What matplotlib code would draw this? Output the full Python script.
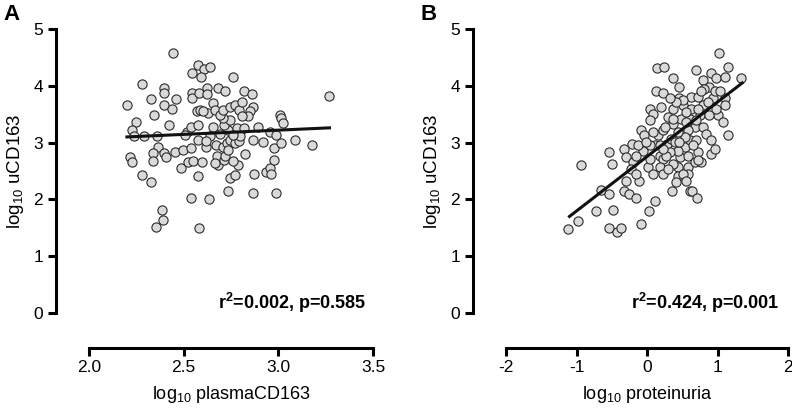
import numpy as np
import matplotlib
matplotlib.use("Agg")
import matplotlib.pyplot as plt

plt.rcParams["font.family"] = ["Liberation Sans", "DejaVu Sans"]
plt.rcParams["mathtext.fontset"] = "custom"
plt.rcParams["mathtext.rm"] = "Liberation Sans"
plt.rcParams["mathtext.bf"] = "Liberation Sans:bold"
plt.rcParams["mathtext.default"] = "regular"

# Panel A: log10 plasmaCD163 vs log10 uCD163
plasma_x = [
    2.445, 2.20, 2.28, 2.25, 2.225, 2.217, 2.225, 2.28, 2.326, 2.24,
    2.29, 2.326, 2.343, 2.357, 2.366, 2.34, 2.336, 2.394, 2.406, 2.398,
    2.394, 2.394, 2.46, 2.44, 2.42, 2.454, 2.495, 2.484, 2.384, 2.393,
    2.354, 2.583, 2.537, 2.635, 2.577, 2.525, 2.55, 2.595, 2.537, 2.516,
    2.507, 2.54, 2.577, 2.577, 2.616, 2.569, 2.586, 2.542, 2.577, 2.607,
    2.639, 2.592, 2.542, 2.542, 2.58, 2.625, 2.625, 2.63, 2.657, 2.665,
    2.683, 2.718, 2.759, 2.657, 2.67, 2.674, 2.683, 2.665, 2.715, 2.718,
    2.736, 2.745, 2.771, 2.785, 2.759, 2.706, 2.727, 2.745, 2.771, 2.79,
    2.736, 2.711, 2.745, 2.71, 2.69, 2.71, 2.745, 2.771, 2.79, 2.806,
    2.82, 2.86, 2.868, 2.85, 2.84, 2.806, 2.78, 2.82, 2.80, 2.826,
    2.868, 2.894, 2.92, 2.873, 2.868, 2.933, 2.956, 2.96, 2.976, 2.976,
    2.956, 2.988, 3.014, 2.99, 3.01, 3.012, 3.023, 3.088, 3.18, 3.27,
    2.60, 2.639, 2.616, 2.76, 2.69, 2.736,
]
ucd_a = [
    4.57, 3.67, 4.04, 3.37, 3.22, 2.74, 2.66, 2.43, 2.31, 3.11,
    3.11, 3.76, 3.49, 3.11, 2.93, 2.81, 2.67, 2.81, 2.74, 3.96,
    3.87, 3.67, 3.77, 3.59, 3.31, 2.84, 2.87, 2.55, 1.82, 1.63,
    1.51, 1.49, 2.02, 2.01, 2.42, 2.66, 2.67, 2.65, 2.90, 3.19,
    3.14, 3.28, 3.31, 3.05, 2.93, 3.55, 3.58, 4.23, 4.37, 4.29,
    4.34, 4.16, 3.88, 3.78, 3.87, 3.97, 3.86, 3.52, 3.69, 3.58,
    3.96, 3.90, 4.15, 3.27, 2.96, 2.76, 2.61, 2.64, 2.70, 2.76,
    2.14, 2.37, 2.43, 2.61, 2.67, 2.93, 2.99, 3.05, 2.99, 3.02,
    3.22, 3.31, 3.40, 3.43, 3.49, 3.58, 3.63, 3.66, 3.58, 3.72,
    3.91, 3.85, 3.63, 3.55, 3.46, 3.46, 3.25, 3.25, 3.11, 2.80,
    3.05, 3.28, 3.01, 2.45, 2.12, 2.49, 2.55, 2.45, 2.70, 2.91,
    3.19, 3.14, 2.99, 2.12, 3.49, 3.44, 3.35, 3.04, 2.95, 3.82,
    3.55, 3.11, 3.03, 3.14, 3.15, 2.87,
]
fit_a_x = [2.20, 3.27]
fit_a_y = [3.10, 3.26]

# Panel B: log10 proteinuria vs log10 uCD163
prot_x = [
    -1.115, -0.973, -0.935, -0.722, -0.65, -0.533, -0.533, -0.495, -0.533, -0.424,
    -0.376, -0.476, -0.32, -0.296, -0.305, -0.32, -0.25, -0.163, -0.083, 0.021,
    0.107, -0.21, -0.20, -0.225, -0.107, -0.154, -0.05, -0.083, -0.036, 0.012,
    0.083, 0.036, 0.083, 0.036, 0.13, 0.20, 0.144, 0.24, 0.225, 0.154,
    0.225, 0.178, 0.225, 0.178, 0.225, 0.282, 0.367, 0.367, 0.367, 0.343,
    0.353, 0.438, 0.438, 0.452, 0.452, 0.509, 0.485, 0.509, 0.533, 0.462,
    0.58, 0.438, 0.58, 0.58, 0.627, 0.627, 0.604, 0.675, 0.604, 0.70,
    0.72, 0.675, 0.604, 0.64, 0.712, 0.70, 0.72, 0.79, 0.745, 0.79,
    0.84, 0.77, 0.72, 0.91, 0.91, 0.96, 0.79, 0.91, 0.885, 0.93,
    1.02, 0.98, 1.10, 1.15, 1.337, 1.10, 1.10, 1.006, 1.077, 1.148,
    0.98, 0.885, 0.81, 0.58, 0.533, 0.32, 0.367, 0.296, 0.414, 0.51,
    0.557, 0.036, 0.107, 0.296, 0.25, 0.438, 0.51, 0.557, 0.72, 0.86,
    -0.154, -0.13, 0.036, -0.02, 0.272, 0.178, 0.39, 0.46, 0.65, 0.557,
    0.70, 0.77, 0.96, 1.03, 0.367, 0.414, 0.225, 0.083, 0.32,
]
ucd_b = [
    1.48, 1.62, 2.60, 1.79, 2.17, 2.10, 2.83, 2.63, 1.49, 1.42,
    1.49, 1.82, 2.89, 2.74, 2.33, 2.14, 2.10, 2.02, 1.56, 1.79,
    1.98, 2.98, 2.66, 2.54, 2.33, 2.45, 2.86, 3.22, 3.13, 2.57,
    2.45, 3.60, 3.51, 3.39, 3.91, 3.63, 4.31, 4.33, 3.87, 3.13,
    3.22, 2.77, 2.72, 2.57, 2.45, 2.98, 4.13, 3.60, 3.32, 3.07,
    2.14, 2.57, 2.42, 3.98, 3.78, 3.66, 3.42, 3.19, 2.92, 2.74,
    2.77, 2.86, 2.57, 2.45, 3.81, 3.60, 3.42, 3.28, 3.04, 3.04,
    2.83, 2.66, 2.14, 2.15, 2.02, 4.28, 3.81, 3.66, 3.48, 3.28,
    3.16, 2.66, 2.69, 3.04, 2.80, 2.89, 4.10, 4.22, 3.98, 3.78,
    4.57, 4.13, 4.16, 4.33, 4.13, 3.78, 3.66, 3.48, 3.36, 3.13,
    3.60, 3.48, 3.95, 3.22, 3.10, 2.83, 2.63, 2.54, 2.30, 2.45,
    2.33, 2.72, 2.95, 3.45, 3.28, 3.19, 3.75, 3.54, 3.60, 3.72,
    2.77, 2.95, 2.95, 3.01, 2.77, 2.95, 3.01, 3.01, 2.95, 3.36,
    3.39, 3.90, 3.90, 3.90, 3.42, 3.72, 2.89, 3.19, 3.78,
]
fit_b_x = [-1.10, 1.35]
fit_b_y = [1.70, 4.05]

y_ticks = [0, 1, 2, 3, 4, 5]
a_ticks = [2.0, 2.5, 3.0, 3.5]
a_tick_labels = ["2.0", "2.5", "3.0", "3.5"]
b_ticks = [-2, -1, 0, 1, 2]
b_tick_labels = ["-2", "-1", "0", "1", "2"]

fig = plt.figure(figsize=(7.92, 4.11), dpi=100)
ax_a = fig.add_axes([0.1124, 0.2384, 0.3586, 0.691])
ax_b = fig.add_axes([0.6389, 0.2384, 0.3561, 0.691])


def style_axis(ax, x_ticks, x_labels, xlabel):
    ax.set_ylim(0, 5)
    ax.set_xlim(x_ticks[0], x_ticks[-1])
    for side in ["top", "right"]:
        ax.spines[side].set_visible(False)
    ax.spines["left"].set_position(("outward", 24))
    ax.spines["bottom"].set_position(("outward", 25))
    ax.spines["left"].set_bounds(0, 5)
    ax.spines["bottom"].set_bounds(x_ticks[0], x_ticks[-1])
    for side in ["left", "bottom"]:
        ax.spines[side].set_linewidth(2.2)
    ax.set_yticks(y_ticks)
    ax.set_xticks(x_ticks)
    ax.set_xticklabels(x_labels)
    ax.tick_params(width=2.2, length=6, labelsize=12.5, pad=3)
    ax.set_ylabel("log$_{10}$ uCD163", fontsize=13.5, labelpad=5)
    ax.set_xlabel(xlabel, fontsize=13, labelpad=6)
    ax.patch.set_visible(False)


# Panel A
ax_a.scatter(plasma_x, ucd_a, s=44, facecolor="#d9d9d9", edgecolor="#2b2b2b",
             linewidth=0.8, zorder=2, clip_on=False)
ax_a.plot(fit_a_x, fit_a_y, color="#111111", linewidth=2.2, zorder=3)
style_axis(ax_a, a_ticks, a_tick_labels, "log$_{10}$ plasmaCD163")
ax_a.text(3.467, 0.18, "r$^{\\mathbf{2}}$=0.002, p=0.585", fontsize=13,
          fontweight="bold", ha="right", va="center")

# Panel B
ax_b.scatter(prot_x, ucd_b, s=44, facecolor="#d9d9d9", edgecolor="#2b2b2b",
             linewidth=0.8, zorder=2, clip_on=False)
ax_b.plot(fit_b_x, fit_b_y, color="#111111", linewidth=2.2, zorder=3)
style_axis(ax_b, b_ticks, b_tick_labels, "log$_{10}$ proteinuria")
ax_b.text(1.88, 0.18, "r$^{\\mathbf{2}}$=0.424, p=0.001", fontsize=13,
          fontweight="bold", ha="right", va="center")

# Panel letters
fig.text(0.004, 0.99, "A", fontsize=16, fontweight="bold", va="top")
fig.text(0.531, 0.99, "B", fontsize=16, fontweight="bold", va="top")

fig.savefig("out.png", dpi=100)
